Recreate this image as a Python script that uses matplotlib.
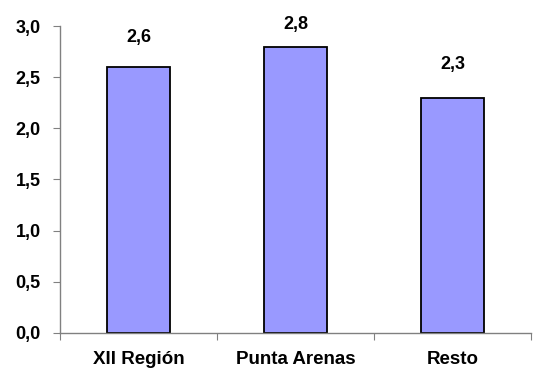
import matplotlib
matplotlib.use("Agg")
import matplotlib.pyplot as plt

plt.rcParams["font.family"] = ["Liberation Sans", "DejaVu Sans"]

categorias = ["XII Región", "Punta Arenas", "Resto"]
valores = [2.6, 2.8, 2.3]
etiquetas = ["2,6", "2,8", "2,3"]
yticks = [0.0, 0.5, 1.0, 1.5, 2.0, 2.5, 3.0]
ytick_labels = ["0,0", "0,5", "1,0", "1,5", "2,0", "2,5", "3,0"]

# distancia (pt) de cada rótulo sobre su barra
gap_rotulo = [15, 10, 18]

fig = plt.figure(figsize=(5.36, 3.72), dpi=100)
ax = fig.add_axes([0.112, 0.105, 0.879, 0.825])

x = range(len(categorias))
ax.bar(x, valores, width=0.4, color="#9999FF", edgecolor="black", linewidth=1.3)

for i, (v, t) in enumerate(zip(valores, etiquetas)):
    ax.annotate(t, (i, v), xytext=(0, gap_rotulo[i]), textcoords="offset points",
                ha="center", va="bottom", fontsize=13, fontweight="bold")

ax.set_xlim(-0.5, len(categorias) - 0.5)
ax.set_ylim(0, 3.0)
ax.set_yticks(yticks)
ax.set_yticklabels(ytick_labels, fontsize=13, fontweight="bold")
ax.set_xticks([i + 0.5 for i in range(-1, len(categorias))], minor=False)
ax.set_xticklabels([])
ax.set_xticks(list(x), minor=True)
ax.set_xticklabels(categorias, minor=True, fontsize=13.5, fontweight="bold")
ax.tick_params(axis="x", which="minor", length=0, pad=13)
ax.tick_params(axis="x", which="major", length=5, color="#808080", direction="out")
ax.tick_params(axis="y", length=5, color="#808080", direction="out", pad=9)

for s in ("top", "right"):
    ax.spines[s].set_visible(False)
for s in ("left", "bottom"):
    ax.spines[s].set_color("#808080")
    ax.spines[s].set_linewidth(1.0)

fig.savefig("out.png", dpi=100)
